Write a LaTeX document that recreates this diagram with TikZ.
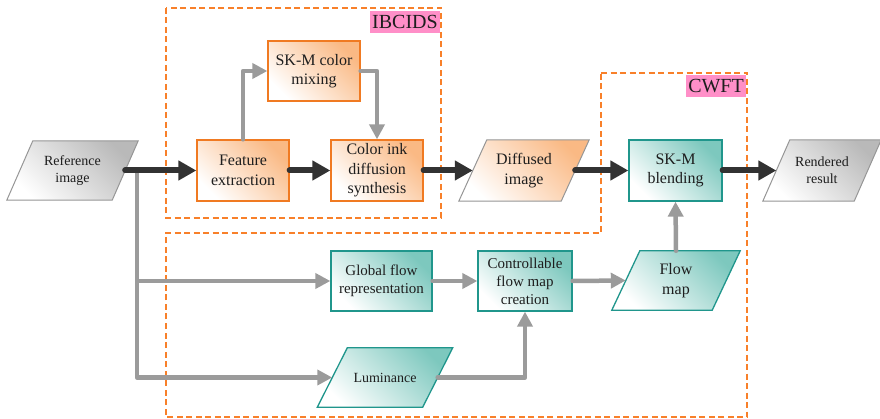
\documentclass[tikz,border=0pt]{standalone}
\usepackage{fontspec}
\setmainfont{Liberation Serif}
\usetikzlibrary{arrows.meta,backgrounds}
\definecolor{frameorange}{RGB}{248,128,42}
\definecolor{oedge}{RGB}{240,122,34}
\definecolor{ofill}{RGB}{250,185,132}
\definecolor{tedge}{RGB}{32,150,140}
\definecolor{tfill}{RGB}{125,200,190}
\definecolor{gedge}{RGB}{150,150,150}
\definecolor{gfill}{RGB}{185,185,185}
\definecolor{pinklab}{RGB}{255,143,200}
\definecolor{arrgray}{RGB}{155,155,155}
\definecolor{arrblack}{RGB}{50,50,50}
\definecolor{txt}{RGB}{30,30,30}
\newcommand\drawpara[3]{%
  \path[#3] ([xshift=#2]#1.north west) -- ([xshift=#2]#1.north east)
     -- ([xshift=-#2]#1.south east) -- ([xshift=-#2]#1.south west) -- cycle;}
\begin{document}
\begin{tikzpicture}[x=1pt,y=-1pt,
  every node/.style={text=txt, align=center, inner sep=0pt},
  obox/.style={draw=oedge, line width=1.3pt, bottom color=white, top color=ofill, shading angle=-45, rectangle},
  tbox/.style={draw=tedge, line width=1.3pt, bottom color=white, top color=tfill, shading angle=-45, rectangle},
  ofillp/.style={draw=gedge, line width=1pt, bottom color=white, top color=ofill, shading angle=-45},
  tfillp/.style={draw=tedge, line width=1.3pt, bottom color=white, top color=tfill, shading angle=-45},
  gfillp/.style={draw=gedge, line width=1pt, bottom color=white, top color=gfill, shading angle=-45},
  txtnode/.style={rectangle},
  bigtext/.style={font=\fontsize{16}{19.5}\selectfont},
  midtext/.style={font=\fontsize{15}{18.5}\selectfont},
  smalltext/.style={font=\fontsize{14}{17}\selectfont},
  frame/.style={draw=frameorange, line width=1.8pt, dash pattern=on 6pt off 3.5pt},
  lab/.style={fill=pinklab, font=\fontsize{20}{22}\selectfont, inner xsep=2pt, inner ysep=4pt},
  blk/.style={draw=arrblack, line width=6pt, line cap=round, line join=round, -{Triangle[length=18pt,width=19pt]}},
  gry/.style={draw=arrgray, line width=4.5pt, line cap=round, line join=round, -{Triangle[length=15pt,width=15pt]}}
]
\useasboundingbox (0,0) rectangle (880,419);

% frames
\draw[frame] (166,8) rectangle (441,218);
\draw[frame] (601,73) -- (747,73) -- (747,417) -- (166,417) -- (166,233) -- (601,233) -- cycle;
\node[lab, anchor=north east] (labA) at (440,11) {IBCIDS};
\node[lab, anchor=north east] (labB) at (746,75) {CWFT};

% boxes
\node[obox, bigtext, minimum width=92pt, minimum height=61pt] (feat) at (243,170.5) {Feature\\extraction};
\node[obox, bigtext, minimum width=92pt, minimum height=60pt] (mix) at (314,71) {SK-M color\\mixing};
\node[obox, bigtext, minimum width=92pt, minimum height=61pt] (cid) at (377,170.5) {Color ink\\diffusion\\synthesis};
\node[tbox, bigtext, minimum width=93pt, minimum height=61pt] (blend) at (675.5,170.5) {SK-M\\blending};
\node[tbox, midtext, minimum width=101pt, minimum height=60pt] (glob) at (381.5,281) {Global flow\\representation};
\node[tbox, midtext, font=\fontsize{15}{18}\selectfont, minimum width=94pt, minimum height=60pt] (ctrl) at (525,281) {Controllable\\flow map\\creation};

% parallelogram text nodes
\node[txtnode, smalltext, minimum width=105pt, minimum height=59pt] (ref) at (72.5,170.5) {Reference\\image};
\node[txtnode, bigtext, minimum width=102pt, minimum height=61pt] (diff) at (524,170.5) {Diffused\\image};
\node[txtnode, smalltext, minimum width=91pt, minimum height=61pt] (rend) at (822,170.5) {Rendered\\result};
\node[txtnode, bigtext, minimum width=100pt, minimum height=59pt] (flow) at (676,280.5) {Flow\\map};
\node[txtnode, smalltext, minimum width=105pt, minimum height=59pt] (lum) at (385,377.5) {Luminance};

\begin{pgfonlayer}{background}
  \drawpara{ref}{13pt}{gfillp}
  \drawpara{diff}{14pt}{ofillp}
  \drawpara{rend}{13.5pt}{gfillp}
  \drawpara{flow}{14pt}{tfillp}
  \drawpara{lum}{15pt}{tfillp}
\end{pgfonlayer}

% gray connectors
\coordinate (br) at (137,170.5);
\draw[gry] (br) |- (glob.west);
\draw[gry] (br) |- (lum.west);
\draw[gry] (feat.north) |- (mix.west);
\draw[gry] (mix.east) -| (cid.north);
\draw[gry] (glob.east) -- (ctrl.west);
\draw[gry] (lum.east) -| (ctrl.south);
\draw[gry] (ctrl.east) -- (flow.west);
\draw[gry] (flow.north) -- (blend.south);

% black connectors
\draw[blk] (ref.east) -- (feat.west);
\draw[blk] (feat.east) -- (cid.west);
\draw[blk] (cid.east) -- (diff.west);
\draw[blk] (diff.east) -- (blend.west);
\draw[blk] (blend.east) -- (rend.west);
\end{tikzpicture}
\end{document}
